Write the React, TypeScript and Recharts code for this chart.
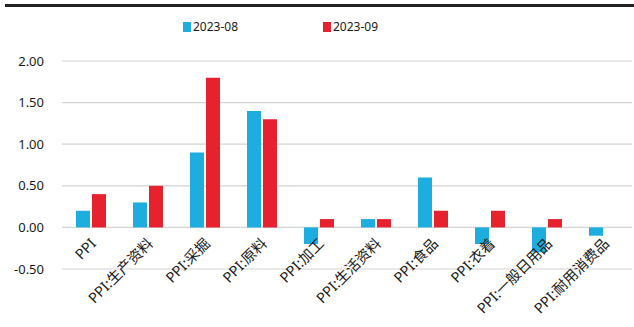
import React from 'react';
import { BarChart, Bar, XAxis, YAxis, CartesianGrid } from 'recharts';

const categories = [
  'PPI',
  'PPI:生产资料',
  'PPI:采掘',
  'PPI:原料',
  'PPI:加工',
  'PPI:生活资料',
  'PPI:食品',
  'PPI:衣着',
  'PPI:一般日用品',
  'PPI:耐用消费品',
];
const aug2023 = [0.2, 0.3, 0.9, 1.4, -0.2, 0.1, 0.6, -0.2, -0.3, -0.1];
const sep2023 = [0.4, 0.5, 1.8, 1.3, 0.1, 0.1, 0.2, 0.2, 0.1, 0.0];
const yTicks = [-0.5, 0, 0.5, 1, 1.5, 2];

const series = [
  { key: 'aug', name: '2023-08', color: '#1DAEDF', values: aug2023 },
  { key: 'sep', name: '2023-09', color: '#E8212E', values: sep2023 },
];

const data = categories.map((name, i) => ({
  name,
  aug: aug2023[i],
  sep: sep2023[i],
}));

const FONT = '"Noto Sans", "Noto Sans CJK SC", sans-serif';

// category labels sit just under the zero line, rotated 45deg
const CategoryTick = (props: any) => {
  const { x, y, payload } = props;
  return (
    <g transform={`translate(${x + 3},${y - 28}) rotate(-45)`}>
      <text textAnchor="end" fontSize={14.5} fill="#1a1a1a" fontFamily={FONT} dy={5}>
        {payload.value}
      </text>
    </g>
  );
};

export default function App() {
  return (
    <div style={{ position: 'absolute', left: 0, top: 0, width: 634, height: 327, background: '#fff', fontFamily: FONT }}>
      <div style={{ position: 'absolute', left: 5, top: 4, width: 629, height: 3, background: '#222' }} />
      <div style={{ position: 'absolute', top: 18, left: 0, width: 634, height: 20 }}>
        {series.map((s, i) => (
          <div
            key={s.key}
            style={{
              position: 'absolute',
              left: 183 + i * 140,
              top: 0,
              display: 'flex',
              alignItems: 'center',
              fontSize: 12,
              color: '#1a1a1a',
            }}
          >
            <span style={{ display: 'inline-block', width: 8, height: 10, background: s.color, marginRight: 2 }} />
            {s.name}
          </div>
        ))}
      </div>
      <BarChart
        width={634}
        height={327}
        data={data}
        margin={{ top: 61, right: 2, bottom: 0, left: 0 }}
        barSize={14}
        barGap={2}
      >
        <CartesianGrid vertical={false} stroke="#d4d4d4" strokeWidth={1.2} />
        <XAxis
          dataKey="name"
          interval={0}
          axisLine={false}
          tickLine={false}
          tickSize={0}
          tickMargin={0}
          height={58}
          tick={<CategoryTick />}
        />
        <YAxis
          domain={[-0.5, 2]}
          ticks={yTicks}
          width={62}
          axisLine={false}
          tickLine={false}
          tickSize={0}
          tickMargin={18}
          tickFormatter={(v: number) => v.toFixed(2)}
          tick={{ fill: '#1a1a1a', fontSize: 13, fontFamily: FONT }}
        />
        {series.map((s) => (
          <Bar key={s.key} dataKey={s.key} name={s.name} fill={s.color} isAnimationActive={false} />
        ))}
      </BarChart>
    </div>
  );
}
